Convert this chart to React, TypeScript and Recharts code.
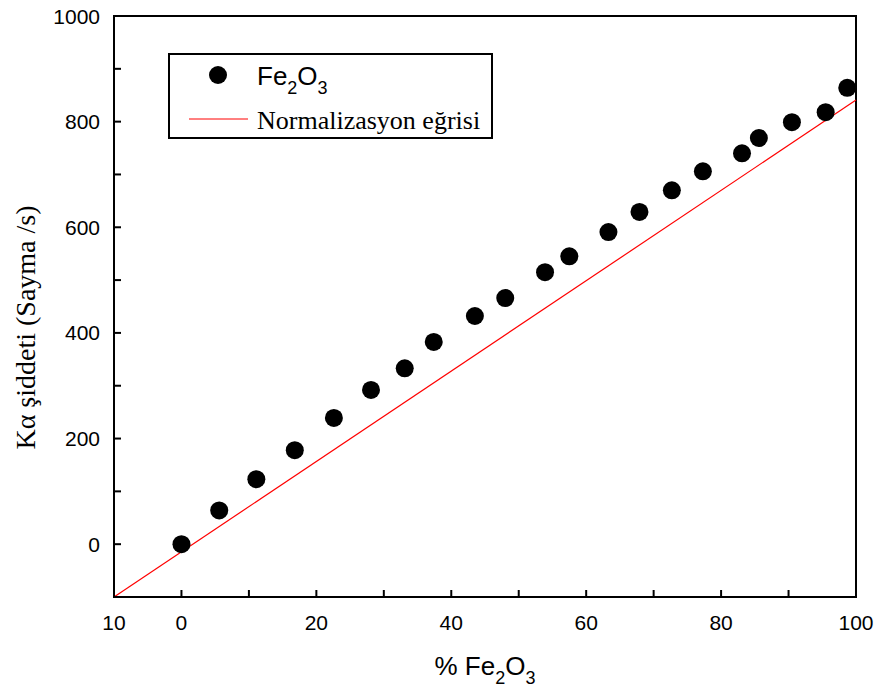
import { ComposedChart, Scatter, XAxis, YAxis, ReferenceArea, Legend } from 'recharts';

// Fe2O3 content (%) and measured K-alpha intensity (counts/s)
const fePercent = [0, 5.6, 11.1, 16.8, 22.6, 28.1, 33.1, 37.4, 43.5, 48.0, 53.9, 57.5, 63.3, 67.9, 72.7, 77.3, 83.1, 85.6, 90.5, 95.5, 98.7];
const intensity = [0, 64, 123, 178, 239, 292, 333, 383, 432, 466, 515, 545, 591, 629, 670, 706, 740, 769, 799, 818, 864];

// normalisation line end points
const fitX = [-10, 100];
const fitY = [-100, 841];

const xTicks = [-10, 0, 10, 20, 30, 40, 50, 60, 70, 80, 90, 100];
const yTicks = [-100, 0, 100, 200, 300, 400, 500, 600, 700, 800, 900, 1000];

const points = fePercent.map((x, i) => ({ x, y: intensity[i] }));
const fitLine = fitX.map((x, i) => ({ x, y: fitY[i] }));

const SANS = '"Liberation Sans", Arial, sans-serif';
const SERIF = '"Liberation Serif", "Times New Roman", serif';

function XTick({ x, y, payload }: any) {
  const v = payload.value;
  const labelled = v === -10 || v % 20 === 0;
  return (
    <g>
      <line x1={x} y1={y} x2={x} y2={y - 7} stroke="#000" strokeWidth={2} />
      {labelled && (
        <text x={x} y={y + 25} textAnchor="middle" dominantBaseline="central" fontFamily={SANS} fontSize={21} fill="#000">
          {v === -10 ? '10' : v}
        </text>
      )}
    </g>
  );
}

function YTick({ x, y, payload }: any) {
  const v = payload.value;
  const labelled = v >= 0 && v % 200 === 0;
  return (
    <g>
      <line x1={x} y1={y} x2={x + 7} y2={y} stroke="#000" strokeWidth={2} />
      {labelled && (
        <text x={x - 14} y={y} textAnchor="end" dominantBaseline="central" fontFamily={SANS} fontSize={21} fill="#000">
          {v}
        </text>
      )}
    </g>
  );
}

function XTitle({ viewBox }: any) {
  const cx = viewBox.x + viewBox.width / 2;
  const y = viewBox.y + 78;
  return (
    <text x={cx} y={y} textAnchor="middle" fontFamily={SANS} fontSize={26} fill="#000">
      % Fe<tspan dy={9} fontSize={18}>2</tspan>
      <tspan dy={-9}>O</tspan>
      <tspan dy={9} fontSize={18}>3</tspan>
    </text>
  );
}

function YTitle({ viewBox }: any) {
  const cx = viewBox.x + 11;
  const cy = viewBox.y + viewBox.height / 2 + 21;
  return (
    <text
      x={cx}
      y={cy}
      transform={`rotate(-90 ${cx} ${cy})`}
      textAnchor="middle"
      dominantBaseline="central"
      fontFamily={SERIF}
      fontSize={28}
      fill="#000"
    >
      Kα şiddeti (Sayma /s)
    </text>
  );
}

function LegendBox() {
  return (
    <svg width={325} height={86} style={{ display: 'block' }}>
      <rect x={1} y={1} width={323} height={84} fill="#fff" stroke="#000" strokeWidth={2} />
      <circle cx={50} cy={22} r={9} fill="#000" />
      <text x={89} y={32} fontFamily={SANS} fontSize={26} fill="#000">
        Fe<tspan dy={9} fontSize={18}>2</tspan>
        <tspan dy={-9}>O</tspan>
        <tspan dy={9} fontSize={18}>3</tspan>
      </text>
      <line x1={21} y1={66} x2={80} y2={66} stroke="#ff0000" strokeWidth={1} />
      <text x={89} y={76} fontFamily={SERIF} fontSize={26} fill="#000">
        Normalizasyon eğrisi
      </text>
    </svg>
  );
}

export default function App() {
  return (
    <div style={{ position: 'absolute', left: 0, top: 0, background: '#fff' }}>
      <ComposedChart width={880} height={691} margin={{ top: 16, right: 24, bottom: 34, left: 14 }}>
        <XAxis
          type="number"
          dataKey="x"
          domain={[-10, 100]}
          ticks={xTicks}
          interval={0}
          tickSize={0}
          tickMargin={0}
          tickLine={false}
          axisLine={{ stroke: '#000', strokeWidth: 2 }}
          tick={<XTick />}
          height={60}
          label={<XTitle />}
        />
        <YAxis
          type="number"
          dataKey="y"
          domain={[-100, 1000]}
          ticks={yTicks}
          interval={0}
          tickSize={0}
          tickMargin={0}
          tickLine={false}
          axisLine={{ stroke: '#000', strokeWidth: 2 }}
          tick={<YTick />}
          width={100}
          label={<YTitle />}
        />
        <ReferenceArea x1={-10} x2={100} y1={-100} y2={1000} fill="none" fillOpacity={0} stroke="#000" strokeWidth={2} />
        <Scatter
          name="Normalizasyon eğrisi"
          data={fitLine}
          line={{ stroke: '#ff0000', strokeWidth: 1.2 }}
          shape={() => <g />}
          isAnimationActive={false}
        />
        <Scatter
          name="Fe2O3"
          data={points}
          shape={(p: any) => <circle cx={p.cx} cy={p.cy} r={9} fill="#000" />}
          isAnimationActive={false}
        />
        <Legend
          layout="vertical"
          align="center"
          verticalAlign="middle"
          content={() => <LegendBox />}
          wrapperStyle={{ position: 'absolute', left: 168, top: 53, width: 325, height: 86 }}
        />
      </ComposedChart>
    </div>
  );
}
